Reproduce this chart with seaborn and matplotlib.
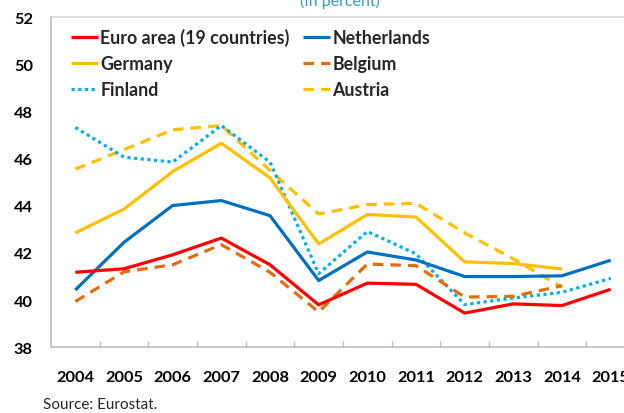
import pandas as pd
import matplotlib
matplotlib.use("Agg")
import matplotlib.pyplot as plt
import seaborn as sns
from matplotlib.ticker import MultipleLocator, FixedLocator

# Data (percent)
years = [2004, 2005, 2006, 2007, 2008, 2009, 2010, 2011, 2012, 2013, 2014, 2015]
euro_area = [41.18, 41.33, 41.92, 42.63, 41.50, 39.80, 40.72, 40.67, 39.45, 39.84, 39.77, 40.46]
netherlands = [40.43, 42.45, 44.01, 44.22, 43.58, 40.83, 42.04, 41.70, 41.00, 41.00, 41.03, 41.69]
germany = [42.85, 43.86, 45.45, 46.65, 45.18, 42.38, 43.63, 43.52, 41.62, 41.55, 41.32]
belgium = [39.94, 41.20, 41.50, 42.35, 41.18, 39.50, 41.53, 41.46, 40.13, 40.16, 40.61]
finland = [47.32, 46.06, 45.85, 47.40, 45.85, 41.12, 42.91, 41.96, 39.81, 40.09, 40.33, 40.92]
austria = [45.55, 46.38, 47.22, 47.40, 45.50, 43.65, 44.05, 44.10, 42.85, 41.75, 40.55]

# name, values, colour, dash pattern (None = solid) -- order gives legend layout
series = [
    ("Euro area (19 countries)", euro_area, "#ff0000", None),
    ("Germany", germany, "#ffc000", None),
    ("Finland", finland, "#00b0f0", (1.0, 1.1)),
    ("Netherlands", netherlands, "#0070c0", None),
    ("Belgium", belgium, "#e46c0a", (3.3, 2.2)),
    ("Austria", austria, "#ffc000", (3.3, 2.2)),
]

sns.set_style("white")
plt.rcParams["font.family"] = ["Lato", "DejaVu Sans"]

fig = plt.figure(figsize=(6.24, 4.14), dpi=100)
ax = fig.add_axes([51 / 624, 1 - 348.3 / 414, 584 / 624, 330.3 / 414])

# draw in a sensible z-order (euro area on top)
draw_order = [5, 2, 4, 1, 3, 0]
handles = {}
for i in draw_order:
    name, vals, color, dash = series[i]
    df = pd.DataFrame({"year": years[: len(vals)], "value": vals})
    sns.lineplot(data=df, x="year", y="value", color=color, linewidth=2.3,
                 ax=ax, label=name, solid_capstyle="butt")
    line = ax.lines[-1]
    if dash is not None:
        line.set_dashes(dash)
        line.set_dash_capstyle("butt")
    handles[name] = line

ax.set_xlim(2003.5, 2015.5)
ax.set_ylim(38, 52)
ax.set_xlabel("")
ax.set_ylabel("")

# y axis
ax.yaxis.set_major_locator(MultipleLocator(2))
ax.tick_params(axis="y", which="major", direction="out", length=4, width=1,
               color="#bfbfbf", pad=9, labelsize=11.8)
# x axis: labels at category centres, tick marks between categories
ax.set_xticks(years)
ax.xaxis.set_minor_locator(FixedLocator([y + 0.5 for y in years[:-1]]))
ax.tick_params(axis="x", which="major", length=0, pad=16, labelsize=11.8)
ax.tick_params(axis="x", which="minor", direction="in", length=4, width=1,
               color="#bfbfbf", bottom=True)
for lab in ax.get_xticklabels() + ax.get_yticklabels():
    lab.set_fontweight("bold")
    lab.set_color("black")

for sp in ax.spines.values():
    sp.set_color("#bfbfbf")
    sp.set_linewidth(1.2)
ax.spines["top"].set_color("#d9d9d9")

names = [s[0] for s in series]
leg = ax.legend([handles[n] for n in names], names, ncol=2, frameon=False,
                loc="upper left", bbox_to_anchor=(71 / 624, 1 - 29 / 414),
                bbox_transform=fig.transFigure, borderpad=0, borderaxespad=0,
                handlelength=1.5, handletextpad=0.15, columnspacing=0.75,
                labelspacing=0.5, prop={"weight": "bold", "size": 12.8})

fig.text(340 / 624, 1 - 6 / 414, "(In percent)", ha="center", va="baseline",
         color="#2a9fd6", fontsize=11.5)
fig.text(43 / 624, 1 - 405 / 414, "Source: Eurostat.", ha="left", va="center",
         color="#262626", fontsize=11)

fig.savefig("out.png", dpi=100)
